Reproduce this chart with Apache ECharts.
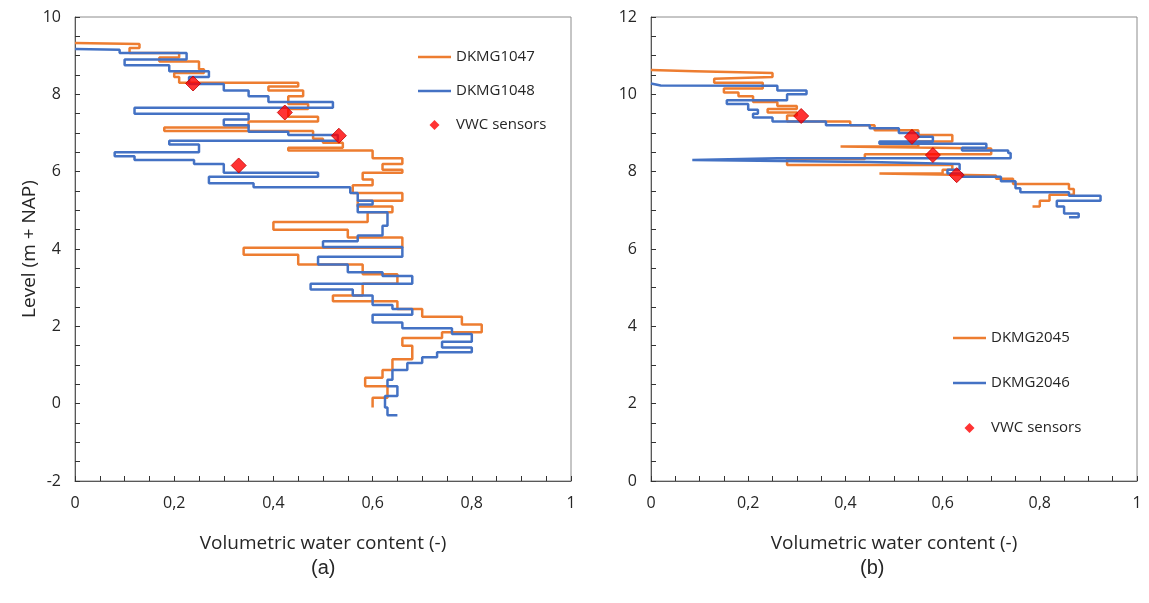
<!DOCTYPE html>
<html>
<head>
<meta charset="utf-8">
<script src="https://cdn.jsdelivr.net/npm/echarts@6/dist/echarts.min.js"></script>
<style>
  html, body { margin: 0; padding: 0; background: #fff; }
  #chart { width: 1149px; height: 603px; }
</style>
</head>
<body>
<div id="chart"></div>
<script>
// (a) profiles DKMG1047 / DKMG1048, level in m + NAP, VWC in -
var vwc1047 = [0.00, 0.13, 0.11, 0.21, 0.17, 0.25, 0.26, 0.20, 0.21, 0.45, 0.39, 0.46, 0.43, 0.47, 0.43, 0.49, 0.35, 0.18, 0.48, 0.50,
  0.54, 0.43, 0.60, 0.66, 0.62, 0.66, 0.58, 0.60, 0.56, 0.66, 0.57, 0.64, 0.59, 0.40, 0.55, 0.66, 0.34, 0.45, 0.58, 0.65,
  0.58, 0.52, 0.65, 0.70, 0.78, 0.82, 0.74, 0.66, 0.68, 0.64, 0.62, 0.585, 0.63, 0.60, 0.60];
var level1047 = [9.33, 9.30, 9.20, 9.07, 8.95, 8.85, 8.65, 8.55, 8.45, 8.30, 8.20, 8.10, 7.95, 7.75, 7.62, 7.42, 7.30, 7.14, 7.05, 6.85,
  6.75, 6.62, 6.55, 6.35, 6.20, 6.05, 5.97, 5.80, 5.65, 5.45, 5.25, 5.10, 4.95, 4.70, 4.50, 4.30, 4.03, 3.85, 3.60, 3.35,
  3.10, 2.80, 2.65, 2.45, 2.25, 2.05, 1.85, 1.70, 1.50, 1.15, 0.87, 0.67, 0.45, 0.15, -0.10];

var vwc1048 = [0.00, 0.09, 0.225, 0.10, 0.19, 0.27, 0.23, 0.30, 0.35, 0.39, 0.52, 0.12, 0.35, 0.30, 0.35, 0.43, 0.53, 0.19, 0.25, 0.08,
  0.12, 0.24, 0.30, 0.49, 0.27, 0.36, 0.555, 0.57, 0.60, 0.57, 0.63, 0.62, 0.57, 0.50, 0.66, 0.49, 0.55, 0.62, 0.68, 0.475,
  0.56, 0.60, 0.64, 0.68, 0.60, 0.66, 0.76, 0.80, 0.74, 0.80, 0.73, 0.70, 0.67, 0.64, 0.63, 0.65, 0.625, 0.63, 0.65];
var level1048 = [9.17, 9.15, 9.07, 8.90, 8.75, 8.60, 8.45, 8.27, 8.10, 7.95, 7.80, 7.65, 7.50, 7.35, 7.20, 7.03, 6.95, 6.80, 6.70, 6.50,
  6.40, 6.30, 6.20, 5.97, 5.87, 5.70, 5.60, 5.45, 5.25, 5.15, 4.95, 4.60, 4.35, 4.20, 4.05, 3.80, 3.60, 3.40, 3.30, 3.10,
  2.95, 2.80, 2.55, 2.45, 2.30, 2.10, 1.95, 1.80, 1.60, 1.45, 1.33, 1.20, 1.05, 0.87, 0.62, 0.45, 0.20, -0.10, -0.30];

var sensorVwcA = [0.238, 0.423, 0.532, 0.33];
var sensorLevelA = [8.28, 7.53, 6.93, 6.16];

// (b) profiles DKMG2045 / DKMG2046
var vwc2045 = [0.00, 0.09, 0.25, 0.25, 0.13, 0.23, 0.15, 0.18, 0.21, 0.26, 0.30, 0.24, 0.30, 0.28, 0.41, 0.46, 0.55, 0.62, 0.62, 0.55,
  0.39, 0.70, 0.44, 0.28, 0.62, 0.60, 0.47, 0.71, 0.745, 0.86, 0.87, 0.82, 0.80, 0.785];
var level2045 = [10.63, 10.60, 10.55, 10.45, 10.40, 10.30, 10.15, 10.05, 9.95, 9.80, 9.70, 9.62, 9.53, 9.45, 9.30, 9.20, 9.07, 8.95, 8.85, 8.78,
  8.65, 8.60, 8.45, 8.33, 8.17, 8.05, 7.95, 7.90, 7.82, 7.68, 7.55, 7.40, 7.25, 7.10];

var vwc2046 = [0.00, 0.02, 0.26, 0.32, 0.28, 0.156, 0.20, 0.22, 0.21, 0.25, 0.36, 0.45, 0.51, 0.55, 0.58, 0.47, 0.69, 0.64, 0.735, 0.74,
  0.26, 0.085, 0.45, 0.635, 0.61, 0.64, 0.72, 0.75, 0.76, 0.86, 0.925, 0.835, 0.85, 0.88, 0.86];
var level2046 = [10.28, 10.23, 10.22, 10.10, 10.00, 9.85, 9.75, 9.60, 9.50, 9.40, 9.30, 9.20, 9.12, 9.00, 8.90, 8.78, 8.72, 8.62, 8.55, 8.48,
  8.35, 8.30, 8.25, 8.20, 8.05, 7.95, 7.87, 7.75, 7.57, 7.47, 7.38, 7.25, 7.10, 6.92, 6.82];

var sensorVwcB = [0.309, 0.537, 0.58, 0.629];
var sensorLevelB = [9.44, 8.90, 8.43, 7.91];

function pairs(xs, ys) {
  return xs.map(function (x, i) { return [x, ys[i]]; });
}

var orange = '#ED7D31';
var blue = '#4472C4';
var txt = '#262626';
var font = 'Open Sans';
var tickColor = '#333';
var lineIcon = 'path://M0,0H33V2.6H0Z';
var diamondIcon = 'path://M5,0L10,5L5,10L0,5Z';

function xAxisOf(idx) {
  return {
    gridIndex: idx, type: 'value', min: 0, max: 1, interval: 0.2,
    name: 'Volumetric water content (-)', nameLocation: 'middle', nameGap: 53,
    nameTextStyle: { fontFamily: font, fontSize: 19, color: txt },
    axisLine: { onZero: false, lineStyle: { color: '#595959' } },
    axisTick: { show: true, inside: true, length: 5, lineStyle: { color: tickColor, width: 1 } },
    minorTick: { show: true, splitNumber: 4, length: 5, lineStyle: { color: tickColor, width: 1 } },
    splitLine: { show: false },
    axisLabel: {
      fontFamily: font, fontSize: 16, color: txt, margin: 14,
      formatter: function (v) { return String(v).replace('.', ','); }
    }
  };
}

function yAxisOf(idx, min, max, name) {
  return {
    gridIndex: idx, type: 'value', min: min, max: max, interval: 2,
    name: name, nameLocation: 'middle', nameGap: 36,
    nameTextStyle: { fontFamily: font, fontSize: 19, color: txt },
    axisLine: { onZero: false, lineStyle: { color: '#595959' } },
    axisTick: { show: true, inside: true, length: 5, lineStyle: { color: tickColor, width: 1 } },
    minorTick: { show: true, splitNumber: 4, length: 5, lineStyle: { color: tickColor, width: 1 } },
    splitLine: { show: false },
    axisLabel: { fontFamily: font, fontSize: 16, color: txt, margin: 14 }
  };
}

function profile(name, idx, xs, ys, color) {
  return {
    name: name, type: 'line', xAxisIndex: idx, yAxisIndex: idx,
    data: pairs(xs, ys), step: 'start', symbol: 'none',
    lineStyle: { color: color, width: 2.5 }, itemStyle: { color: color },
    z: 2
  };
}

function sensors(idx, xs, ys) {
  return {
    name: 'VWC sensors', type: 'scatter', xAxisIndex: idx, yAxisIndex: idx,
    data: pairs(xs, ys), symbol: 'diamond', symbolSize: 15,
    itemStyle: { color: '#FF0000', borderColor: '#C00000', borderWidth: 1 },
    z: 5
  };
}

function legendOf(left, top, gap, names) {
  return {
    orient: 'vertical', left: left, top: top, itemGap: gap, itemWidth: 33, itemHeight: 10,
    symbolKeepAspect: true,
    textStyle: { fontFamily: font, fontSize: 15, color: txt, lineHeight: 16 },
    data: [
      { name: names[0], icon: lineIcon },
      { name: names[1], icon: lineIcon },
      { name: 'VWC sensors', icon: diamondIcon, itemStyle: { borderWidth: 0 } }
    ]
  };
}

var chart = echarts.init(document.getElementById('chart'));
chart.setOption({
  backgroundColor: '#fff',
  animation: false,
  grid: [
    { left: 75, top: 17, width: 496, height: 464, show: true, borderColor: '#8c8c8c', borderWidth: 1 },
    { left: 651, top: 17, width: 486, height: 464, show: true, borderColor: '#8c8c8c', borderWidth: 1 }
  ],
  xAxis: [xAxisOf(0), xAxisOf(1)],
  yAxis: [yAxisOf(0, -2, 10, 'Level (m + NAP)'), yAxisOf(1, 0, 12, '')],
  legend: [
    legendOf(413, 44, 18, ['DKMG1047', 'DKMG1048']),
    legendOf(948, 325, 29, ['DKMG2045', 'DKMG2046'])
  ],
  graphic: [
    { type: 'text', left: 311, top: 558, style: { text: '(a)', font: '20px "Liberation Sans"', fill: txt } },
    { type: 'text', left: 860, top: 558, style: { text: '(b)', font: '20px "Liberation Sans"', fill: txt } }
  ],
  series: [
    profile('DKMG1047', 0, vwc1047, level1047, orange),
    profile('DKMG1048', 0, vwc1048, level1048, blue),
    sensors(0, sensorVwcA, sensorLevelA),
    profile('DKMG2045', 1, vwc2045, level2045, orange),
    profile('DKMG2046', 1, vwc2046, level2046, blue),
    sensors(1, sensorVwcB, sensorLevelB)
  ]
});
</script>
</body>
</html>
